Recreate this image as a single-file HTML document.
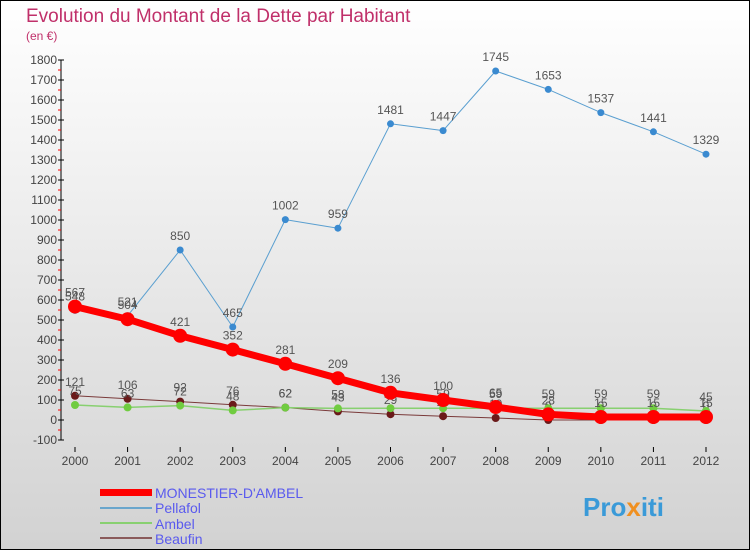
<!DOCTYPE html>
<html><head><meta charset="utf-8"><style>
body{margin:0}
svg{display:block;font-family:"Liberation Sans",sans-serif}
</style></head><body>
<svg id="c" width="750" height="550" xmlns="http://www.w3.org/2000/svg">
<defs><linearGradient id="bg" x1="0" y1="0" x2="0" y2="1"><stop offset="0" stop-color="#ffffff"/><stop offset="1" stop-color="#d2d2d2"/></linearGradient></defs>
<rect x="0.5" y="0.5" width="749" height="549" fill="url(#bg)" stroke="#000"/>
<text x="26" y="22" font-size="19" fill="#c0306a">Evolution du Montant de la Dette par Habitant</text>
<text x="26" y="40" font-size="12" fill="#c0306a">(en €)</text>
<g id="axes"></g><g id="series"></g>
<g>
<rect x="100" y="489" width="52" height="7" fill="#f00"/>
<text x="155" y="498" font-size="14" fill="#5a5aee">MONESTIER-D'AMBEL</text>
<rect x="100" y="507" width="52" height="2" fill="#6aa6cc"/>
<text x="155" y="513" font-size="14" fill="#5a5aee">Pellafol</text>
<rect x="100" y="522" width="52" height="2" fill="#88d070"/>
<text x="155" y="529" font-size="14" fill="#5a5aee">Ambel</text>
<rect x="100" y="537" width="52" height="2" fill="#8a5a5a"/>
<text x="155" y="544" font-size="14" fill="#5a5aee">Beaufin</text>
</g>
<text x="583" y="516" font-size="26" font-weight="bold" fill="#3a9ad8">Pro<tspan fill="#f09020">x</tspan>iti</text>
</svg>
<script>
const years=[2000,2001,2002,2003,2004,2005,2006,2007,2008,2009,2010,2011,2012];
const monestier=[567,504,421,352,281,209,136,100,65,28,15,15,15];
const pellafol=[548,521,850,465,1002,959,1481,1447,1745,1653,1537,1441,1329];
const ambel=[75,63,72,48,62,58,59,59,59,59,59,59,45];
const beaufin=[121,106,92,76,62,43,29,19,10,0,0,0,0];
const yTicks=[-100,0,100,200,300,400,500,600,700,800,900,1000,1100,1200,1300,1400,1500,1600,1700,1800];
const NS="http://www.w3.org/2000/svg";
const X=i=>75+i*(706-75)/(years.length-1);
const Y=v=>420-v*0.2;
function mk(t,a,p){const e=document.createElementNS(NS,t);for(const k in a)e.setAttribute(k,a[k]);p.appendChild(e);return e;}
const ax=document.getElementById('axes'),se=document.getElementById('series');
const yl=mk('line',{x1:61,y1:Y(1800),x2:61,y2:Y(-100),stroke:'#000'},ax);

yTicks.forEach(v=>{
 mk('line',{x1:58,x2:64,y1:Y(v),y2:Y(v),stroke:'#000'},ax);
 if(v<1800)mk('line',{x1:58,x2:61,y1:Y(v+50),y2:Y(v+50),stroke:'#f00'},ax);
 const t=mk('text',{x:57,y:Y(v)+4,'font-size':12,fill:'#444','text-anchor':'end'},ax);t.textContent=v;
 
});
const xl=mk('line',{x1:61,x2:720,y1:Y(-100)+10,y2:Y(-100)+10,stroke:'#000','stroke-width':0},ax);
years.forEach((y,i)=>{
 mk('line',{x1:X(i),x2:X(i),y1:447,y2:452,stroke:'#000'},ax);
 const t=mk('text',{x:X(i),y:465,'font-size':12,fill:'#444','text-anchor':'middle'},ax);t.textContent=y;
 
});
function series(name,d,col,w,r,dot){
 const g=mk('g',{},se);
 mk('polyline',{points:d.map((v,i)=>X(i)+','+Y(v)).join(' '),fill:'none',stroke:col,'stroke-width':w,'stroke-linejoin':'round'},g);
 d.forEach((v,i)=>{
  const c=mk('circle',{cx:X(i),cy:Y(v),r:r,fill:dot},g);
  
  const t=mk('text',{x:X(i),y:Y(v)-10,'font-size':12,fill:'#555','text-anchor':'middle'},g);t.textContent=v;
  
 });
}
series('beaufin',beaufin,'#7a3a3a',1,4,'#6a1a1a');
series('ambel',ambel,'#88d070',1.5,4,'#70cc40');
series('pellafol',pellafol,'#5a9fd0',1,3.5,'#3a8ad0');
series('monestier',monestier,'#f00',7,7,'#f00');
</script>
</body></html>
